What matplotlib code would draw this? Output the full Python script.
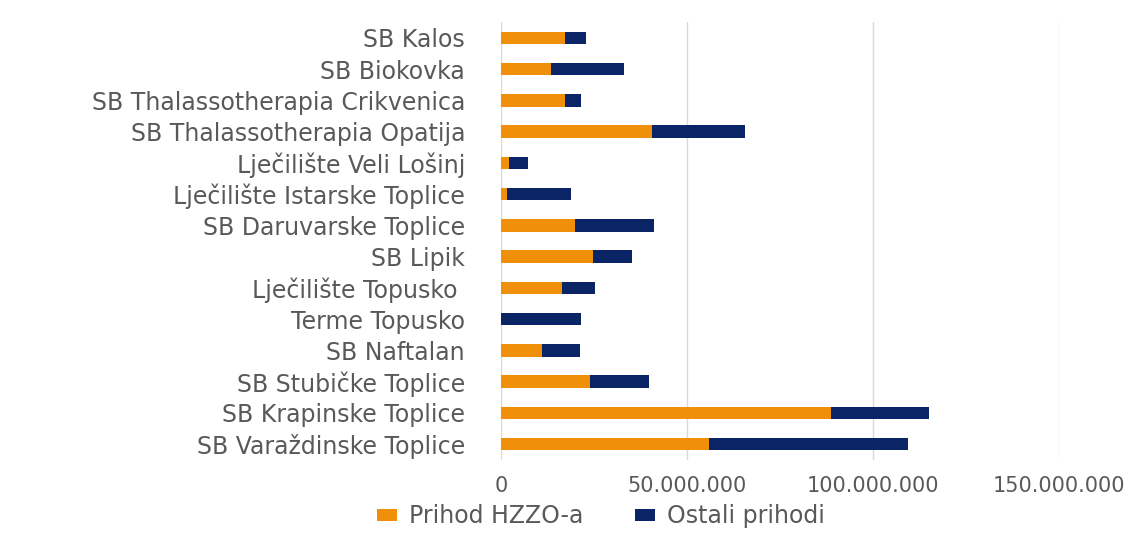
import matplotlib

matplotlib.use("Agg")
import matplotlib.pyplot as plt
from matplotlib.ticker import FuncFormatter

categories = [
    "SB Kalos",
    "SB Biokovka",
    "SB Thalassotherapia Crikvenica",
    "SB Thalassotherapia Opatija",
    "Lječilište Veli Lošinj",
    "Lječilište Istarske Toplice",
    "SB Daruvarske Toplice",
    "SB Lipik",
    "Lječilište Topusko ",
    "Terme Topusko",
    "SB Naftalan",
    "SB Stubičke Toplice",
    "SB Krapinske Toplice",
    "SB Varaždinske Toplice",
]
hzzo = [17.2e6, 13.4e6, 17.2e6, 40.6e6, 2.2e6, 1.6e6, 19.9e6,
        24.7e6, 16.4e6, 0.0, 11.0e6, 23.9e6, 88.7e6, 55.9e6]
ostali = [5.6e6, 19.7e6, 4.3e6, 25.0e6, 5.1e6, 17.2e6, 21.2e6,
          10.5e6, 8.9e6, 21.5e6, 10.2e6, 15.9e6, 26.4e6, 53.5e6]
series_names = ["Prihod HZZO-a", "Ostali prihodi"]
colors = ["#F0900A", "#0B2465"]
ticks = [0, 50e6, 100e6, 150e6]

plt.rcParams["font.family"] = ["DejaVu Sans"]

fig = plt.figure(figsize=(11.34, 5.44), dpi=100)
ax = fig.add_axes([0.442, 0.155, 0.492, 0.804])

y = list(range(len(categories)))
ax.barh(y, hzzo, height=0.4, color=colors[0], label=series_names[0], zorder=3)
ax.barh(y, ostali, left=hzzo, height=0.4, color=colors[1], label=series_names[1], zorder=3)

ax.set_yticks(y)
ax.set_yticklabels(categories, fontsize=17, color="#595959")
ax.set_ylim(len(categories) - 0.5, -0.5)
ax.set_xlim(0, 150e6)
ax.set_xticks(ticks)
ax.xaxis.set_major_formatter(FuncFormatter(lambda v, _: f"{v:,.0f}".replace(",", ".")))
ax.tick_params(axis="x", labelsize=15, colors="#595959", length=0, pad=12)
ax.tick_params(axis="y", length=0, pad=26)
ax.grid(axis="x", color="#D9D9D9", lw=1, zorder=0)
for s in ax.spines.values():
    s.set_visible(False)

fig.legend(loc="lower center", bbox_to_anchor=(0.53, -0.01), ncol=2, frameon=False,
           fontsize=17, labelcolor="#595959", handlelength=0.85, handleheight=0.42,
           columnspacing=2.2, handletextpad=0.5)

fig.savefig("out.png", dpi=100)
